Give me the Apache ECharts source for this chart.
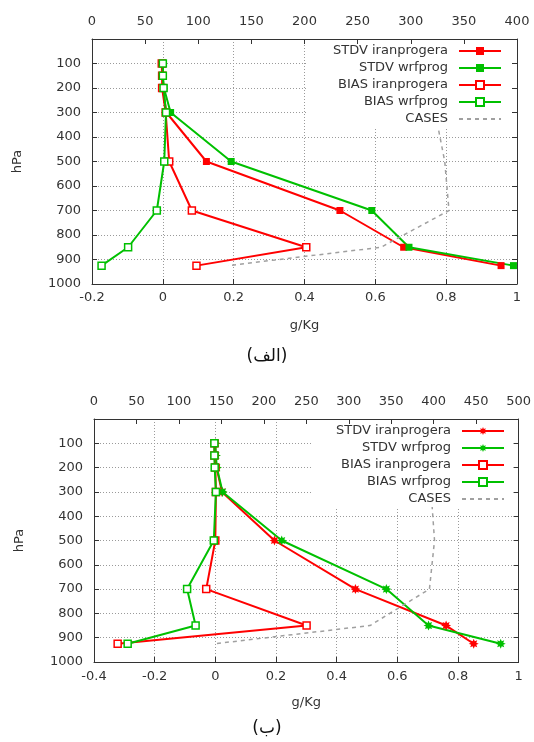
<!DOCTYPE html>
<html><head><meta charset="utf-8">
<script src="https://cdn.jsdelivr.net/npm/echarts@6/dist/echarts.min.js"></script>
<style>html,body{margin:0;padding:0;background:#fff;overflow:hidden;}#a{width:534px;height:370px;}#b{width:534px;height:372px;}</style>
</head><body><div id="a"></div><div id="b"></div>
<script>
// ---- data ----
const seriesNames = ['STDV iranprogera', 'STDV wrfprog', 'BIAS iranprogera', 'BIAS wrfprog', 'CASES'];
const levels = [100, 150, 200, 300, 500, 700, 850, 925];           // hPa
const pressureTicks = [100, 200, 300, 400, 500, 600, 700, 800, 900, 1000];
// panel (الف)
const stdvIranA = [0, 0, 0, 0.010, 0.123, 0.500, 0.680, 0.955];
const stdvWrfA  = [0, 0, 0.003, 0.022, 0.193, 0.590, 0.695, 0.990];
const biasIranA = [-0.003, -0.002, -0.002, 0.008, 0.018, 0.082, 0.405, 0.095];
const biasWrfA  = [0, 0, 0.002, 0.009, 0.004, -0.017, -0.098, -0.173];
const casesA    = [233, 246, 290, 323, 332, 336, 272, 128];
const gkgRangeA = [-0.2, 1];
const casesRangeA = [0, 400];
// panel (ب)
const stdvIranB = [0, 0, 0.004, 0.022, 0.195, 0.462, 0.761, 0.852];
const stdvWrfB  = [0, 0.002, 0.005, 0.024, 0.219, 0.564, 0.703, 0.941];
const biasIranB = [-0.003, -0.003, 0, 0.002, 0, -0.030, 0.301, -0.322];
const biasWrfB  = [-0.003, -0.003, -0.002, 0.002, -0.005, -0.093, -0.065, -0.289];
const casesB    = [360, 372, 385, 397, 401, 395, 325, 142];
const gkgRangeB = [-0.4, 1];
const casesRangeB = [0, 500];

// ---- styling ----
const RED = '#ff0000', GREEN = '#00c000', GRAY = '#a0a0a0', INK = '#333333';
const FONT = 'DejaVu Sans';

function starPath() {
  const pts = [];
  for (let i = 0; i < 16; i++) {
    const a = i * Math.PI / 8;
    const r = i % 2 === 0 ? 10 : 5.6;
    pts.push((10 + r * Math.sin(a)).toFixed(2) + ',' + (10 - r * Math.cos(a)).toFixed(2));
  }
  return 'path://M' + pts.join('L') + 'Z';
}

function pairs(vals) { return vals.map((v, i) => [v, levels[i]]); }

function build(cfg) {
  const tickStyle = { show: true, inside: true, length: 5, lineStyle: { color: INK } };
  const lab = { color: INK, fontSize: 13, fontFamily: FONT };
  const stdvSym = cfg.star ? starPath() : 'rect';
  const stdvSize = cfg.star ? 10 : 7;
  const mk = (name, vals, color, filled) => ({
    name, type: 'line', data: pairs(vals), xAxisIndex: 0, yAxisIndex: 0,
    symbol: filled ? stdvSym : 'rect', symbolSize: filled ? stdvSize : 7,
    showSymbol: true, animation: false,
    lineStyle: { color, width: 2 },
    itemStyle: filled ? { color } : { color: '#ffffff', borderColor: color, borderWidth: 1.5 },
    emphasis: { disabled: true }
  });
  return {
    animation: false,
    graphic: [{
      type: 'text', left: 'center', top: cfg.capTop,
      style: { text: cfg.caption, fontSize: 17, fontFamily: FONT, fill: '#111' }
    }],
    legend: {
      orient: 'vertical', align: 'right', right: cfg.legRight, top: cfg.legTop,
      itemWidth: 42, itemHeight: 10, itemGap: 3,
      padding: cfg.legPad, backgroundColor: '#ffffff',
      textStyle: { color: INK, fontSize: 13, fontFamily: FONT, lineHeight: 14, padding: [0, 6, 0, 0] },
      data: seriesNames.map(n => n === 'CASES' ? { name: n, itemStyle: { opacity: 0 } } : n),
      selectedMode: false
    },
    grid: cfg.grid,
    xAxis: [{
      type: 'value', position: 'bottom', min: cfg.gkg[0], max: cfg.gkg[1], interval: 0.2,
      name: 'g/Kg', nameLocation: 'middle', nameGap: cfg.nameGapX,
      nameTextStyle: { color: INK, fontSize: 13, fontFamily: FONT },
      axisLine: { show: true, onZero: false, lineStyle: { color: INK, width: 1 } },
      axisTick: tickStyle,
      axisLabel: Object.assign({ margin: cfg.xMargin }, lab),
      splitLine: { show: true, lineStyle: { color: '#9a9a9a', width: 1, type: [1, 2] } }
    }, {
      type: 'value', position: 'top', min: cfg.cases[0], max: cfg.cases[1], interval: 50, z: 10,
      axisLine: { show: true, onZero: false, lineStyle: { color: INK, width: 1 } },
      axisTick: tickStyle,
      axisLabel: Object.assign({ margin: cfg.topMargin }, lab),
      splitLine: { show: false }
    }],
    yAxis: [{
      type: 'value', inverse: true, min: 0, max: 1000, interval: 100, position: 'left',
      name: 'hPa', nameLocation: 'middle', nameGap: 68,
      nameTextStyle: { color: INK, fontSize: 13, fontFamily: FONT },
      axisLine: { show: true, onZero: false, lineStyle: { color: INK, width: 1 } },
      axisTick: tickStyle,
      axisLabel: Object.assign({ margin: 11, formatter: v => (pressureTicks.indexOf(v) >= 0 ? String(v) : '') }, lab),
      splitLine: { show: true, lineStyle: { color: '#9a9a9a', width: 1, type: [1, 2] } }
    }, {
      type: 'value', inverse: true, min: 0, max: 1000, interval: 100, position: 'right', z: 10,
      axisLine: { show: true, onZero: false, lineStyle: { color: INK, width: 1 } },
      axisTick: tickStyle, axisLabel: { show: false }, splitLine: { show: false }
    }],
    series: [
      mk(seriesNames[0], cfg.d[0], RED, true),
      mk(seriesNames[1], cfg.d[1], GREEN, true),
      mk(seriesNames[2], cfg.d[2], RED, false),
      mk(seriesNames[3], cfg.d[3], GREEN, false),
      {
        name: seriesNames[4], type: 'line', data: pairs(cfg.d[4]), xAxisIndex: 1, yAxisIndex: 0,
        symbol: 'circle', showSymbol: false, symbolSize: 0, animation: false,
        lineStyle: { color: GRAY, width: 1.5, type: [4, 4] },
        itemStyle: { color: GRAY }, emphasis: { disabled: true }
      }
    ]
  };
}

const chartA = echarts.init(document.getElementById('a'), null, { renderer: 'canvas' });
chartA.setOption(build({
  caption: '(الف)', capTop: 348,
  grid: { left: 92, right: 17, top: 39, bottom: 86 },
  gkg: gkgRangeA, cases: casesRangeA, star: false,
  nameGapX: 35, xMargin: 7, topMargin: 11,
  legRight: 19, legTop: 40, legPad: [4, 13, 1, 25],
  d: [stdvIranA, stdvWrfA, biasIranA, biasWrfA, casesA]
}));

const chartB = echarts.init(document.getElementById('b'), null, { renderer: 'canvas' });
chartB.setOption(build({
  caption: '(ب)', capTop: 350,
  grid: { left: 94, right: 11, top: 49, bottom: 80 },
  gkg: gkgRangeB, cases: casesRangeB, star: true,
  nameGapX: 34, xMargin: 8, topMargin: 11,
  legRight: 12, legTop: 50, legPad: [4, 17, 1, 25],
  d: [stdvIranB, stdvWrfB, biasIranB, biasWrfB, casesB]
}));
</script></body></html>
